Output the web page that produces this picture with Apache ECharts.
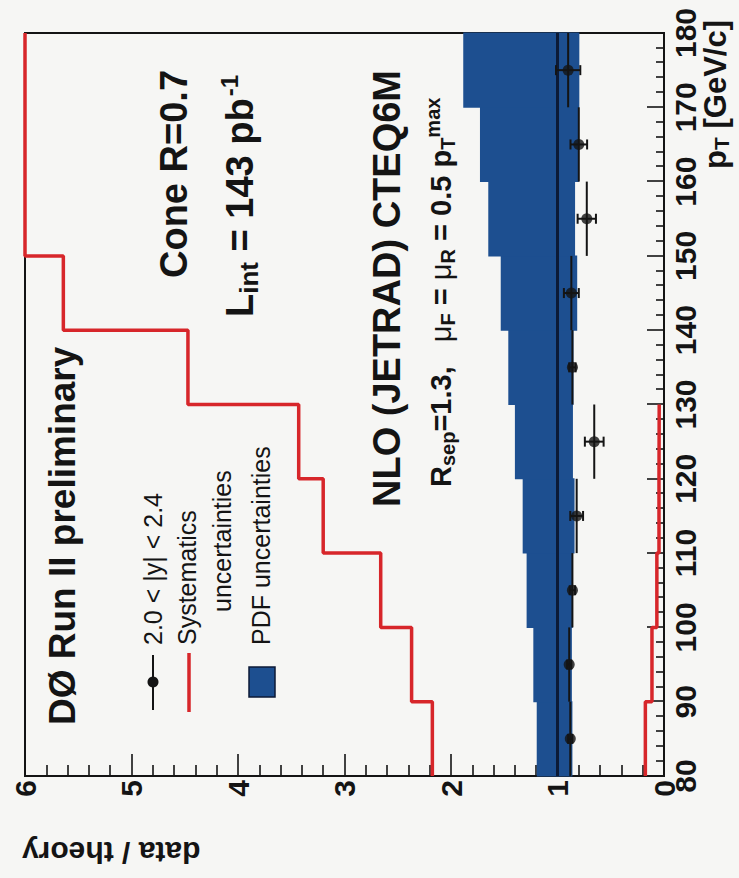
<!DOCTYPE html>
<html><head><meta charset="utf-8">
<script src="https://cdn.jsdelivr.net/npm/echarts@6/dist/echarts.min.js"></script>
<style>
html,body{margin:0;padding:0;background:#f6f6f4;}
body{width:739px;height:878px;overflow:hidden;position:relative;}
#rot{position:absolute;left:0;top:0;width:878px;height:739px;transform-origin:0 0;transform:translate(0px,878px) rotate(-90deg);}
#chart{width:878px;height:739px;}
</style></head><body>
<div id="rot"><div id="chart"></div></div>
<script>
// ---- data ----
const binEdges   = [80, 90, 100, 110, 120, 130, 140, 150, 160, 170, 180];
const ptCenters  = [85, 95, 105, 115, 125, 135, 145, 155, 165, 175];
const binHalf    = [5, 5, 5, 5, 5, 5, 5, 5, 5, 5];
const dataRatio  = [0.88, 0.89, 0.86, 0.82, 0.655, 0.86, 0.87, 0.725, 0.80, 0.90];
const dataErr    = [0.02, 0.02, 0.025, 0.06, 0.088, 0.03, 0.07, 0.086, 0.078, 0.114];
const pdfLow     = [0.86, 0.865, 0.857, 0.84, 0.855, 0.85, 0.815, 0.835, 0.80, 0.795];
const pdfHigh    = [1.195, 1.227, 1.29, 1.327, 1.40, 1.462, 1.533, 1.65, 1.728, 1.885];
const sysUp      = [2.175, 2.37, 2.66, 3.20, 3.43, 4.47, 5.64, 6, 6, 6];
const sysDown    = [0.175, 0.113, 0.067, 0.047, 0.045, null, null, null, null, null];
const theoryRatio = 1;
const ratioRange = [0, 6];
const ptRange    = [80, 180];

// ---- style ----
const FONT = "'Liberation Sans', Arial, Helvetica, sans-serif";
const NARROW = "'Liberation Sans Narrow', 'Liberation Sans', Arial, sans-serif";
const RED = '#d7262a';
const BLUE = '#1d4f90';
const NAVY = '#0c1a36';
const INK = '#141414';

function stepPoints(vals) {
  const pts = [];
  vals.forEach((v, i) => { if (v == null) return; pts.push([binEdges[i], v], [binEdges[i + 1], v]); });
  return pts;
}

const chart = echarts.init(document.getElementById('chart'), null, {renderer: 'svg'});

function txt(x, y, text, o) {
  return {type: 'text', x: x, y: y, z: 100, silent: true,
    style: Object.assign({text: text, fill: INK, align: 'left', verticalAlign: 'middle',
      fontFamily: FONT, fontWeight: 'bold', fontSize: 38}, o || {})};
}

const option = {
  animation: false,
  backgroundColor: 'transparent',
  grid: {left: 102, right: 33, top: 25, bottom: 75, show: true, borderColor: INK, borderWidth: 2, backgroundColor: 'transparent'},
  xAxis: {
    type: 'value', min: ptRange[0], max: ptRange[1], interval: 10,
    axisLine: {show: true, onZero: false, lineStyle: {color: INK, width: 2}},
    axisTick: {show: true, inside: true, length: 17, lineStyle: {color: INK, width: 1.6}},
    minorTick: {show: true, splitNumber: 5, length: 8, lineStyle: {color: INK, width: 1.6}},
    splitLine: {show: false},
    axisLabel: {margin: 6, color: INK, fontFamily: NARROW, fontWeight: 'bold', fontSize: 30}
  },
  yAxis: {
    type: 'value', min: ratioRange[0], max: ratioRange[1], interval: 1,
    axisLine: {show: true, onZero: false, lineStyle: {color: INK, width: 2}},
    axisTick: {show: true, inside: true, length: 22, lineStyle: {color: INK, width: 1.6}},
    minorTick: {show: true, splitNumber: 5, length: 11, lineStyle: {color: INK, width: 1.6}},
    splitLine: {show: false},
    axisLabel: {margin: 4, color: INK, fontFamily: NARROW, fontWeight: 'bold', fontSize: 30}
  },
  series: [
    {
      name: 'PDF uncertainties', type: 'custom', z: 1,
      data: pdfLow.map((lo, i) => [binEdges[i], binEdges[i + 1], lo, pdfHigh[i]]),
      encode: {x: [0, 1], y: [2, 3]},
      renderItem: function (params, api) {
        const p0 = api.coord([api.value(0), api.value(3)]);
        const p1 = api.coord([api.value(1), api.value(2)]);
        return {type: 'rect', shape: {x: p0[0] - 0.5, y: p0[1], width: p1[0] - p0[0] + 1, height: p1[1] - p0[1]},
          style: {fill: BLUE}};
      }
    },
    {
      name: 'theory', type: 'line', z: 2, showSymbol: false, silent: true,
      data: [[ptRange[0], theoryRatio], [ptRange[1], theoryRatio]],
      lineStyle: {color: NAVY, width: 3}
    },
    {
      name: 'Systematics up', type: 'line', z: 3, showSymbol: false, clip: false,
      data: stepPoints(sysUp), lineStyle: {color: RED, width: 3.5}
    },
    {
      name: 'Systematics down', type: 'line', z: 3, showSymbol: false, clip: false,
      data: stepPoints(sysDown), lineStyle: {color: RED, width: 3.5}
    },
    {
      name: 'errors', type: 'custom', z: 4,
      data: ptCenters.map((x, i) => [x, dataRatio[i], dataErr[i], binHalf[i]]),
      encode: {x: 0, y: 1},
      renderItem: function (params, api) {
        const x = api.value(0), y = api.value(1), e = api.value(2), hw = api.value(3);
        const c = api.coord([x, y]);
        const lo = api.coord([x, y - e]), hi = api.coord([x, y + e]);
        const l = api.coord([x - hw, y]), r = api.coord([x + hw, y]);
        const st = {stroke: INK, lineWidth: 2};
        return {type: 'group', children: [
          {type: 'line', shape: {x1: l[0], y1: c[1], x2: r[0], y2: c[1]}, style: st},
          {type: 'line', shape: {x1: c[0], y1: lo[1], x2: c[0], y2: hi[1]}, style: st},
          {type: 'line', shape: {x1: c[0] - 5, y1: lo[1], x2: c[0] + 5, y2: lo[1]}, style: st},
          {type: 'line', shape: {x1: c[0] - 5, y1: hi[1], x2: c[0] + 5, y2: hi[1]}, style: st}
        ]};
      }
    },
    {
      name: '2.0 < |y| < 2.4', type: 'scatter', z: 5,
      data: ptCenters.map((x, i) => [x, dataRatio[i]]),
      symbol: 'circle', symbolSize: 11, itemStyle: {color: INK}
    }
  ],
  graphic: [
    // axis titles
    {type: 'text', x: 26, y: 22, rotation: Math.PI / 2, z: 100, silent: true,
      style: {text: 'data / theory', fill: INK, align: 'right', verticalAlign: 'middle', fontFamily: FONT, fontWeight: 'bold', fontSize: 30}},
    txt(858, 715, 'p{s|T} [GeV/c]', {align: 'right', fontSize: 31,
      rich: {s: {fontSize: 21, fontWeight: 'bold', fontFamily: FONT, fill: INK, padding: [12, 0, 0, 0]}}}),
    // header texts
    txt(153, 62, 'D\u00D8 Run II preliminary', {fontSize: 37}),
    txt(600, 174, 'Cone R=0.7', {fontSize: 38}),
    txt(561, 240, 'L{s|int} = 143 pb{p|-1}', {fontSize: 38,
      rich: {s: {fontSize: 26, fontWeight: 'bold', fontFamily: FONT, fill: INK, padding: [18, 0, 0, 0]},
             p: {fontSize: 24, fontWeight: 'bold', fontFamily: FONT, fill: INK, padding: [0, 0, 22, 2]}}}),
    txt(371, 387, 'NLO (JETRAD) CTEQ6M', {fontSize: 38}),
    txt(391, 441, 'R{s|sep}=1.3,   {m|\u03BC}{s|F} = {m|\u03BC}{s|R} = 0.5 p{s|T}{p|max}', {fontSize: 29,
      rich: {s: {fontSize: 20, fontWeight: 'bold', fontFamily: FONT, fill: INK, padding: [14, 0, 0, 0]},
             m: {fontSize: 29, fontWeight: 'normal', fontFamily: FONT, fill: INK},
             p: {fontSize: 20, fontWeight: 'bold', fontFamily: FONT, fill: INK, padding: [0, 0, 16, 0]}}}),
    // legend
    {type: 'line', z: 100, silent: true, shape: {x1: 168, y1: 153, x2: 223, y2: 153}, style: {stroke: INK, lineWidth: 2}},
    {type: 'circle', z: 101, silent: true, shape: {cx: 196, cy: 153, r: 5.5}, style: {fill: INK}},
    txt(233, 153, '2.0 < |y| < 2.4', {fontWeight: 'normal', fontSize: 25}),
    {type: 'line', z: 100, silent: true, shape: {x1: 166, y1: 189, x2: 225, y2: 189}, style: {stroke: RED, lineWidth: 3.5}},
    txt(233, 187, 'Systematics', {fontWeight: 'normal', fontSize: 25}),
    txt(266, 222, 'uncertainties', {fontWeight: 'normal', fontSize: 25}),
    {type: 'rect', z: 100, silent: true, shape: {x: 181, y: 249, width: 30, height: 26}, style: {fill: BLUE, stroke: NAVY, lineWidth: 1.5}},
    txt(233, 261, 'PDF uncertainties', {fontWeight: 'normal', fontSize: 25})
  ]
};
chart.setOption(option);
</script>
</body></html>
